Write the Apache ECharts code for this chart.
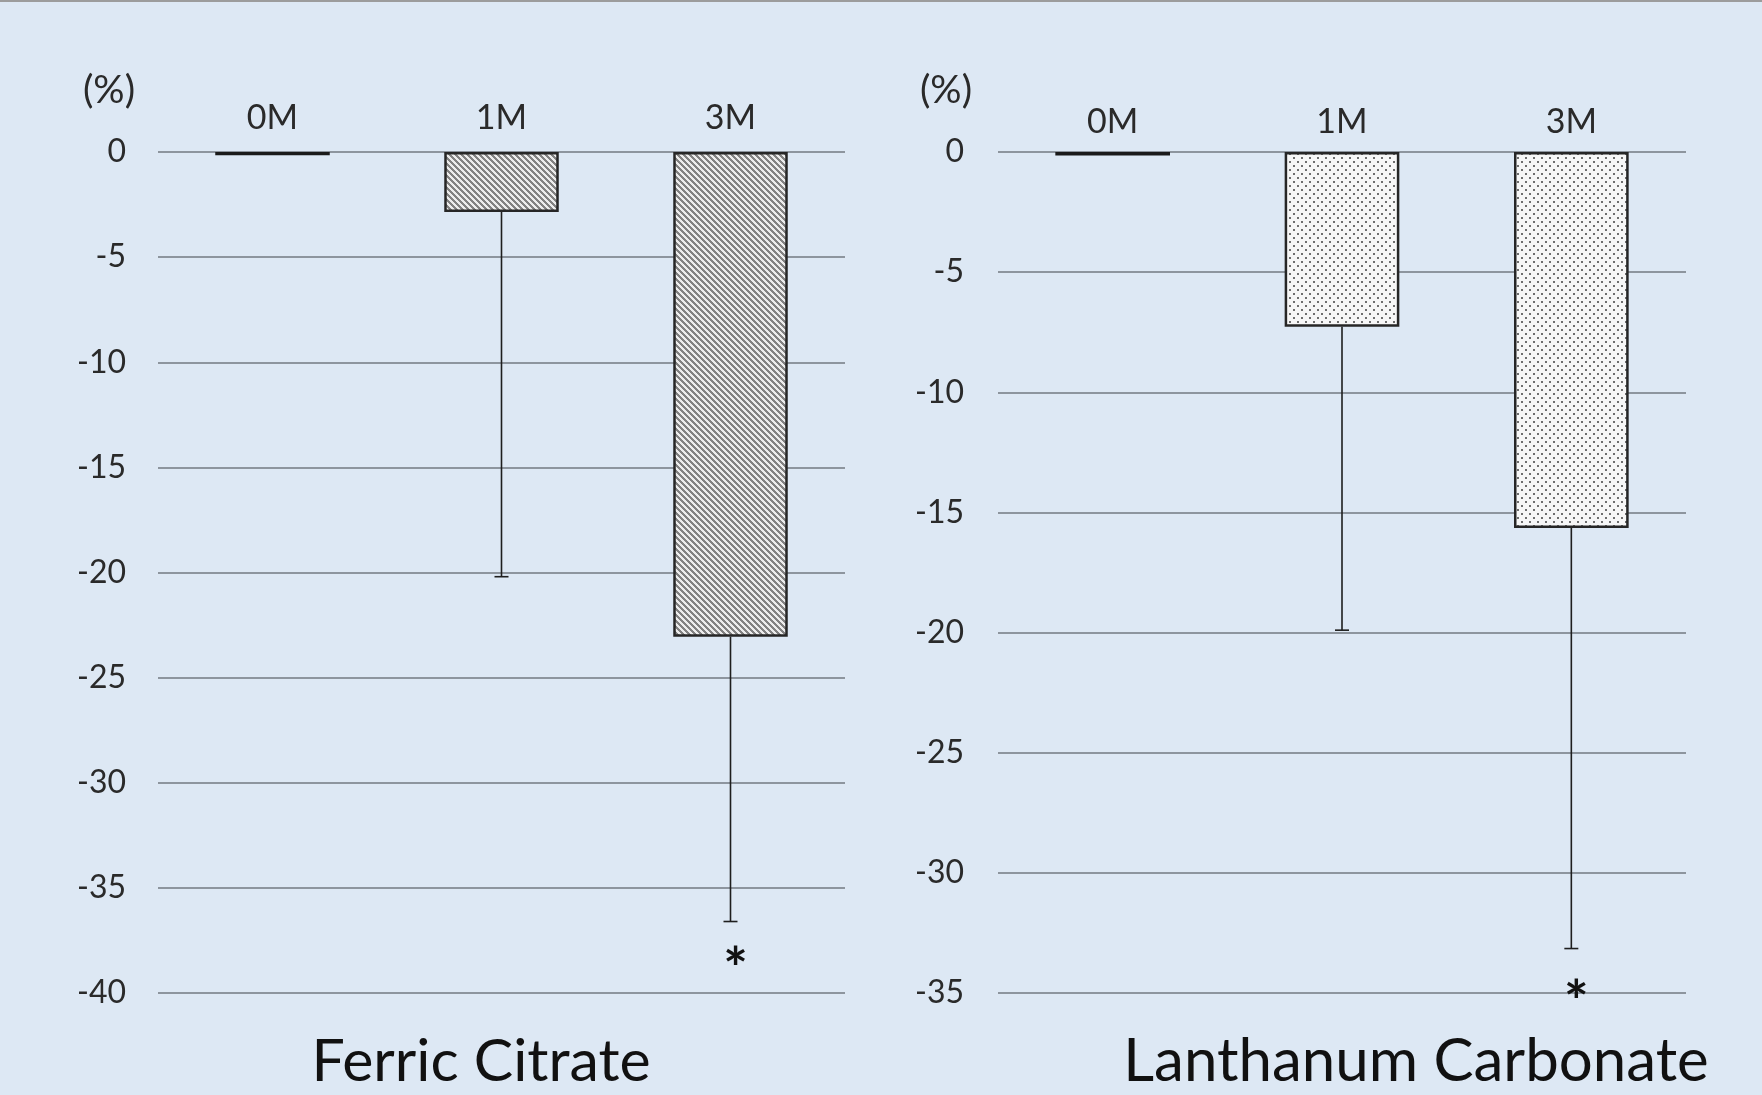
<!DOCTYPE html>
<html>
<head>
<meta charset="utf-8">
<script src="https://cdn.jsdelivr.net/npm/echarts@6/dist/echarts.min.js"></script>
<style>
html,body{margin:0;padding:0;background:#dde8f4;}
#c{width:1762px;height:1095px;}
</style>
</head>
<body>
<div id="c"></div>
<script>
// ---- data ----
const categories = ['0M', '1M', '3M'];
const ferricMean = [-0.15, -2.85, -23.05];
const ferricErrEnd = [null, -20.2, -36.6];
const ferricStar = [null, null, -38.2];
const lanthanumMean = [-0.15, -7.27, -15.65];
const lanthanumErrEnd = [null, -19.9, -33.15];
const lanthanumStar = [null, null, -34.8];
const ferricAxis = { min: -40, max: 0, interval: 5 };
const lanthanumAxis = { min: -35, max: 0, interval: 5 };
const panelTitles = ['Ferric Citrate', 'Lanthanum Carbonate'];
const unitLabel = '(%)';

// ---- patterns ----
function hatchPattern() {
  const n = 6;
  const c = document.createElement('canvas'); c.width = n; c.height = n;
  const ctx = c.getContext('2d');
  const img = ctx.createImageData(n, n);
  for (let y = 0; y < n; y++) for (let x = 0; x < n; x++) {
    const d = (((x - y) % n) + n) % n;
    const v = d < 3 ? 130 : 236;
    const i = (y * n + x) * 4;
    img.data[i] = v; img.data[i + 1] = v; img.data[i + 2] = v; img.data[i + 3] = 255;
  }
  ctx.putImageData(img, 0, 0);
  return c;
}
function dotPattern() {
  const n = 8;
  const c = document.createElement('canvas'); c.width = n; c.height = n;
  const ctx = c.getContext('2d');
  ctx.fillStyle = '#f7f7f7'; ctx.fillRect(0, 0, n, n);
  ctx.fillStyle = '#6e6e6e';
  ctx.fillRect(1, 1, 2, 2);
  ctx.fillRect(5, 5, 2, 2);
  return c;
}

const FONT = 'Lato, "Noto Sans", sans-serif';
const chart = echarts.init(document.getElementById('c'));

function barData(vals, pattern) {
  return vals.map((v, i) => ({
    value: v,
    itemStyle: i === 0
      ? { color: '#1a1a1a', borderColor: '#1a1a1a', borderWidth: 2 }
      : { color: { image: pattern, repeat: 'repeat' }, borderColor: '#262626', borderWidth: 2.5 }
  }));
}
function errData(mean, end) {
  const out = [];
  end.forEach((e, i) => { if (e !== null) out.push([i, mean[i], e]); });
  return out;
}
function starData(stars) {
  const out = [];
  stars.forEach((s, i) => { if (s !== null) out.push([i, s]); });
  return out;
}
function renderErr(params, api) {
  const x = api.value(0);
  const p1 = api.coord([x, api.value(1)]);
  const p2 = api.coord([x, api.value(2)]);
  const st = { stroke: '#1e1e1e', lineWidth: 1.6 };
  return {
    type: 'group',
    children: [
      { type: 'line', shape: { x1: p1[0], y1: p1[1], x2: p2[0], y2: p2[1] }, style: st },
      { type: 'line', shape: { x1: p2[0] - 7, y1: p2[1], x2: p2[0] + 7, y2: p2[1] }, style: st }
    ]
  };
}
function renderStar(params, api) {
  const p = api.coord([api.value(0), api.value(1)]);
  return {
    type: 'text',
    x: p[0] + 5, y: p[1] + 15,
    style: { text: '*', fontSize: 58, fontWeight: 'bold', fontFamily: FONT, fill: '#111', align: 'center', verticalAlign: 'middle' }
  };
}

const hatch = hatchPattern();
const dots = dotPattern();

const grids = [
  { left: 158, top: 152, width: 687, height: 841 },
  { left: 998, top: 152, width: 688, height: 841 }
];
const xAxes = [0, 1].map(i => ({
  type: 'category', gridIndex: i, data: categories, position: 'top',
  axisLine: { show: false }, axisTick: { show: false },
  axisLabel: { fontSize: 34, fontFamily: FONT, color: '#2a2a2a', margin: i === 0 ? 17 : 13 }
}));
const yAxes = [ferricAxis, lanthanumAxis].map((ax, i) => ({
  type: 'value', gridIndex: i, min: ax.min, max: ax.max, interval: ax.interval,
  axisLine: { show: false }, axisTick: { show: false },
  axisLabel: { fontSize: 32, fontFamily: FONT, color: '#2a2a2a', margin: i === 0 ? 32 : 34 },
  splitLine: { lineStyle: { color: '#8d959e', width: 2 } }
}));

const option = {
  backgroundColor: '#dde8f4',
  animation: false,
  grid: grids,
  xAxis: xAxes,
  yAxis: yAxes,
  series: [
    { type: 'bar', xAxisIndex: 0, yAxisIndex: 0, barWidth: '50%', data: barData(ferricMean, hatch), z: 2 },
    { type: 'bar', xAxisIndex: 1, yAxisIndex: 1, barWidth: '50%', data: barData(lanthanumMean, dots), z: 2 },
    { type: 'custom', xAxisIndex: 0, yAxisIndex: 0, renderItem: renderErr, data: errData(ferricMean, ferricErrEnd), z: 3 },
    { type: 'custom', xAxisIndex: 1, yAxisIndex: 1, renderItem: renderErr, data: errData(lanthanumMean, lanthanumErrEnd), z: 3 },
    { type: 'custom', xAxisIndex: 0, yAxisIndex: 0, renderItem: renderStar, data: starData(ferricStar), z: 4 },
    { type: 'custom', xAxisIndex: 1, yAxisIndex: 1, renderItem: renderStar, data: starData(lanthanumStar), z: 4 }
  ],
  graphic: [
    { type: 'rect', shape: { x: 0, y: 0, width: 1762, height: 2 }, style: { fill: '#9c9c9c' } },
    { type: 'text', x: 109, y: 90, style: { text: unitLabel, fontSize: 39, fontFamily: FONT, fill: '#2a2a2a', align: 'center', verticalAlign: 'middle' } },
    { type: 'text', x: 946, y: 90, style: { text: unitLabel, fontSize: 39, fontFamily: FONT, fill: '#2a2a2a', align: 'center', verticalAlign: 'middle' } },
    { type: 'text', x: 481, y: 1062, style: { text: panelTitles[0], fontSize: 59, fontFamily: FONT, fill: '#111', align: 'center', verticalAlign: 'middle' } },
    { type: 'text', x: 1416, y: 1062, style: { text: panelTitles[1], fontSize: 60, fontFamily: FONT, fill: '#111', align: 'center', verticalAlign: 'middle' } }
  ]
};
chart.setOption(option);
</script>
</body>
</html>
